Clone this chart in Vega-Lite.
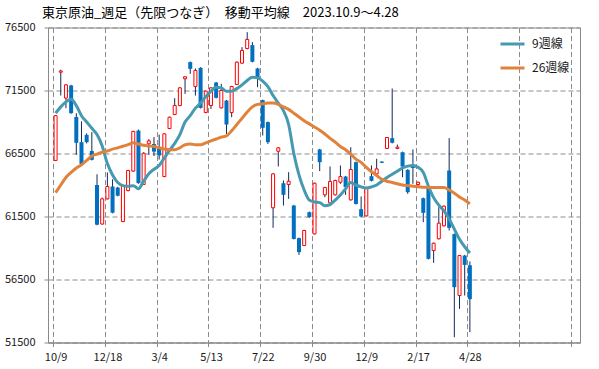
{
"$schema": "https://vega.github.io/schema/vega-lite/v6.json",
"width": 532, "height": 315,
"autosize": {"type": "none"},
"padding": {"left": 48, "top": 27.5, "right": 19, "bottom": 26.5},
"background": "white",
"title": {"text": "東京原油_週足（先限つなぎ）　移動平均線　2023.10.9～4.28", "anchor": "start", "frame": "group", "dx": -6, "offset": 2, "fontSize": 13, "fontWeight": "normal", "font": "Noto Sans CJK JP", "color": "#000000"},
"config": {"view": {"stroke": "#898989", "strokeWidth": 1}, "font": "Noto Sans CJK JP"},
"data": {"values": [
{"i":0,"o":65950,"h":69550,"l":65900,"c":69500,"m9":69700,"m26":63400},
{"i":1,"o":72950,"h":73150,"l":71100,"c":73050,"m9":70200,"m26":64000},
{"i":2,"o":70900,"h":72000,"l":70100,"c":71950,"m9":70600,"m26":64600},
{"i":3,"o":71900,"h":71950,"l":69650,"c":69700,"m9":70800,"m26":65000},
{"i":4,"o":69400,"h":69700,"l":66400,"c":67350,"m9":70300,"m26":65350},
{"i":5,"o":67400,"h":69050,"l":65600,"c":65650,"m9":69500,"m26":65600},
{"i":6,"o":67980,"h":68100,"l":67300,"c":67400,"m9":69000,"m26":65950},
{"i":7,"o":66700,"h":68200,"l":65950,"c":66000,"m9":68500,"m26":66300},
{"i":8,"o":64000,"h":64850,"l":60800,"c":60850,"m9":68000,"m26":66450},
{"i":9,"o":60900,"h":63000,"l":60850,"c":62900,"m9":67100,"m26":66600},
{"i":10,"o":62900,"h":65000,"l":62850,"c":63880,"m9":65700,"m26":66700},
{"i":11,"o":63880,"h":64450,"l":61750,"c":61800,"m9":64800,"m26":66850},
{"i":12,"o":63800,"h":63850,"l":63100,"c":63150,"m9":64200,"m26":66950},
{"i":13,"o":61100,"h":64000,"l":61050,"c":63900,"m9":63950,"m26":67080},
{"i":14,"o":63560,"h":65200,"l":63500,"c":65150,"m9":63900,"m26":67200},
{"i":15,"o":65100,"h":68300,"l":65050,"c":68250,"m9":63950,"m26":67350},
{"i":16,"o":68320,"h":68400,"l":64100,"c":64150,"m9":63700,"m26":67250},
{"i":17,"o":64040,"h":66600,"l":64000,"c":66520,"m9":64300,"m26":67150},
{"i":18,"o":67270,"h":67640,"l":66400,"c":67500,"m9":64900,"m26":67100},
{"i":19,"o":67250,"h":67800,"l":66300,"c":66650,"m9":65250,"m26":67050},
{"i":20,"o":66900,"h":68000,"l":66020,"c":66340,"m9":65550,"m26":66950},
{"i":21,"o":64670,"h":68100,"l":64620,"c":68060,"m9":66150,"m26":66850},
{"i":22,"o":68480,"h":69420,"l":68440,"c":69380,"m9":66750,"m26":66800},
{"i":23,"o":69600,"h":70890,"l":69550,"c":70310,"m9":67300,"m26":66800},
{"i":24,"o":70310,"h":71760,"l":70260,"c":71710,"m9":68000,"m26":66950},
{"i":25,"o":72430,"h":72620,"l":71230,"c":72590,"m9":69000,"m26":67200},
{"i":26,"o":73750,"h":73800,"l":72820,"c":73220,"m9":69500,"m26":67250},
{"i":27,"o":71820,"h":73250,"l":71100,"c":73090,"m9":70100,"m26":67200},
{"i":28,"o":73300,"h":73350,"l":70070,"c":70120,"m9":70500,"m26":67200},
{"i":29,"o":69750,"h":71500,"l":69700,"c":71450,"m9":71000,"m26":67350},
{"i":30,"o":70310,"h":71760,"l":70040,"c":71710,"m9":71450,"m26":67500},
{"i":31,"o":72130,"h":72180,"l":70870,"c":70920,"m9":71750,"m26":67650},
{"i":32,"o":70120,"h":72030,"l":70070,"c":71500,"m9":71700,"m26":67800},
{"i":33,"o":70700,"h":70750,"l":68060,"c":68800,"m9":71450,"m26":67900},
{"i":34,"o":69750,"h":71870,"l":69380,"c":71820,"m9":71450,"m26":68300},
{"i":35,"o":71980,"h":73800,"l":71930,"c":73750,"m9":71650,"m26":68800},
{"i":36,"o":73670,"h":74940,"l":73620,"c":74680,"m9":71950,"m26":69300},
{"i":37,"o":74830,"h":76130,"l":74780,"c":75550,"m9":72300,"m26":69800},
{"i":38,"o":75100,"h":75340,"l":73730,"c":73780,"m9":72550,"m26":70200},
{"i":39,"o":73250,"h":73300,"l":71760,"c":72480,"m9":72500,"m26":70400},
{"i":40,"o":70730,"h":70780,"l":67930,"c":68540,"m9":72250,"m26":70450},
{"i":41,"o":68990,"h":69040,"l":67260,"c":67400,"m9":71800,"m26":70500},
{"i":42,"o":62190,"h":64930,"l":60600,"c":64880,"m9":71100,"m26":70500},
{"i":43,"o":66680,"h":67000,"l":65470,"c":66950,"m9":70500,"m26":70400},
{"i":44,"o":64140,"h":64360,"l":62370,"c":63220,"m9":69900,"m26":70200},
{"i":45,"o":64040,"h":65020,"l":62900,"c":64300,"m9":68800,"m26":70000},
{"i":46,"o":62370,"h":62420,"l":59680,"c":59720,"m9":66500,"m26":69700},
{"i":47,"o":59780,"h":59830,"l":58450,"c":58670,"m9":64800,"m26":69400},
{"i":48,"o":59200,"h":60440,"l":59150,"c":60390,"m9":63600,"m26":69100},
{"i":49,"o":61840,"h":61890,"l":61400,"c":61450,"m9":62800,"m26":68850},
{"i":50,"o":60120,"h":64190,"l":60070,"c":64140,"m9":62650,"m26":68600},
{"i":51,"o":66820,"h":66870,"l":65100,"c":65810,"m9":62600,"m26":68350},
{"i":52,"o":63220,"h":63850,"l":63030,"c":63800,"m9":62350,"m26":68050},
{"i":53,"o":62580,"h":65470,"l":62530,"c":64280,"m9":62450,"m26":67700},
{"i":54,"o":63220,"h":64420,"l":63170,"c":64360,"m9":62800,"m26":67400},
{"i":55,"o":64220,"h":65550,"l":64090,"c":64670,"m9":63200,"m26":67050},
{"i":56,"o":64670,"h":64720,"l":63220,"c":63830,"m9":63700,"m26":66800},
{"i":57,"o":62820,"h":67000,"l":62770,"c":65230,"m9":64200,"m26":66450},
{"i":58,"o":65810,"h":65860,"l":62450,"c":62500,"m9":64000,"m26":66050},
{"i":59,"o":62080,"h":63090,"l":61450,"c":61500,"m9":63850,"m26":65800},
{"i":60,"o":61550,"h":63800,"l":61500,"c":63750,"m9":63770,"m26":65400},
{"i":61,"o":64700,"h":65550,"l":64280,"c":64330,"m9":63850,"m26":65050},
{"i":62,"o":64890,"h":66080,"l":64840,"c":65280,"m9":64000,"m26":64750},
{"i":63,"o":65860,"h":65880,"l":65740,"c":65760,"m9":64300,"m26":64450},
{"i":64,"o":66900,"h":67810,"l":66850,"c":67770,"m9":64600,"m26":64300},
{"i":65,"o":67720,"h":71660,"l":67300,"c":67350,"m9":64850,"m26":64200},
{"i":66,"o":66900,"h":67210,"l":66850,"c":67000,"m9":65100,"m26":64100},
{"i":67,"o":66600,"h":66650,"l":64620,"c":65470,"m9":65350,"m26":64000},
{"i":68,"o":65200,"h":65250,"l":63300,"c":63430,"m9":65500,"m26":63950},
{"i":69,"o":65600,"h":66820,"l":64100,"c":65350,"m9":65550,"m26":63900},
{"i":70,"o":64040,"h":64270,"l":63770,"c":64220,"m9":65400,"m26":63870},
{"i":71,"o":62950,"h":63000,"l":61050,"c":61790,"m9":65000,"m26":63830},
{"i":72,"o":63770,"h":63820,"l":58090,"c":58140,"m9":63900,"m26":63800},
{"i":73,"o":58800,"h":59430,"l":57820,"c":59380,"m9":63000,"m26":63800},
{"i":74,"o":59730,"h":62240,"l":59680,"c":60970,"m9":62400,"m26":63800},
{"i":75,"o":60760,"h":62370,"l":60710,"c":62320,"m9":61950,"m26":63800},
{"i":76,"o":65150,"h":67720,"l":60390,"c":60600,"m9":61300,"m26":63600},
{"i":77,"o":60100,"h":60150,"l":51920,"c":55890,"m9":60500,"m26":63350},
{"i":78,"o":55230,"h":58450,"l":54170,"c":58400,"m9":59700,"m26":63050},
{"i":79,"o":58400,"h":58450,"l":55230,"c":57660,"m9":59100,"m26":62800},
{"i":80,"o":57630,"h":57930,"l":52320,"c":54940,"m9":58600,"m26":62500}
]},
"encoding": {
  "x": {"field": "i", "type": "quantitative",
    "scale": {"domain": [-0.5, 100.3], "nice": false, "zero": false},
    "axis": {"title": null, "values": [-0.5, 9.5, 19.5, 29.5, 39.5, 49.5, 59.5, 69.5, 79.5, 89.5, 99.5],
      "labelExpr": "['10/9','12/18','3/4','5/13','7/22','9/30','12/9','2/17','4/28','',''][round((datum.value+0.5)/10)]",
      "labelOffset": 2.6, "labelFlush": false, "labelOverlap": false, "labelBound": false,
      "grid": true, "gridDash": [5, 3], "gridColor": "#8c8c8c", "gridWidth": 1,
      "domainColor": "#898989", "tickColor": "#898989", "tickSize": 4,
      "labelFontSize": 11, "labelColor": "#1a1a1a", "labelPadding": 5}}
},
"layer": [
  {"mark": {"type": "rule", "color": "#13285a", "strokeWidth": 1},
   "encoding": {
     "y": {"field": "l", "type": "quantitative",
       "scale": {"domain": [51500, 76500], "nice": false, "zero": false},
       "axis": {"title": null, "values": [51500, 56500, 61500, 66500, 71500, 76500], "format": "d",
         "grid": true, "gridDash": [5, 3], "gridColor": "#8c8c8c", "gridWidth": 1,
         "domainColor": "#898989", "tickColor": "#898989", "tickSize": 4,
         "labelFontSize": 11, "labelColor": "#1a1a1a", "labelPadding": 9}},
     "y2": {"field": "h"}}},
  {"transform": [{"filter": "datum.c >= datum.o"}],
   "mark": {"type": "bar", "size": 3, "fill": "white", "stroke": "#ff0000", "strokeWidth": 1},
   "encoding": {"y": {"field": "o", "type": "quantitative", "title": null}, "y2": {"field": "c"}}},
  {"transform": [{"filter": "datum.c < datum.o"}],
   "mark": {"type": "bar", "size": 4, "fill": "#0070c0"},
   "encoding": {"y": {"field": "o", "type": "quantitative", "title": null}, "y2": {"field": "c"}}},
  {"transform": [{"fold": ["m9", "m26"], "as": ["series", "v"]}, {"filter": "datum.series == 'm9'"}],
   "mark": {"type": "line", "strokeWidth": 3, "interpolate": "monotone"},
   "encoding": {"y": {"field": "v", "type": "quantitative", "title": null},
     "color": {"field": "series", "type": "nominal",
       "scale": {"domain": ["m9", "m26"], "range": ["#4599b0", "#e0823c"]},
       "legend": {"title": null, "orient": "none", "legendX": 451, "legendY": 3, "symbolType": "stroke", "symbolSize": 576, "symbolStrokeWidth": 3, "labelFontSize": 12, "labelColor": "#1a1a1a", "padding": 0, "rowPadding": 4, "labelOffset": 6,
         "labelExpr": "datum.label == 'm9' ? '9週線' : '26週線'"}}}},
  {"transform": [{"fold": ["m9", "m26"], "as": ["series", "v"]}, {"filter": "datum.series == 'm26'"}],
   "mark": {"type": "line", "strokeWidth": 3, "interpolate": "monotone"},
   "encoding": {"y": {"field": "v", "type": "quantitative", "title": null},
     "color": {"field": "series", "type": "nominal"}}}
]
}
